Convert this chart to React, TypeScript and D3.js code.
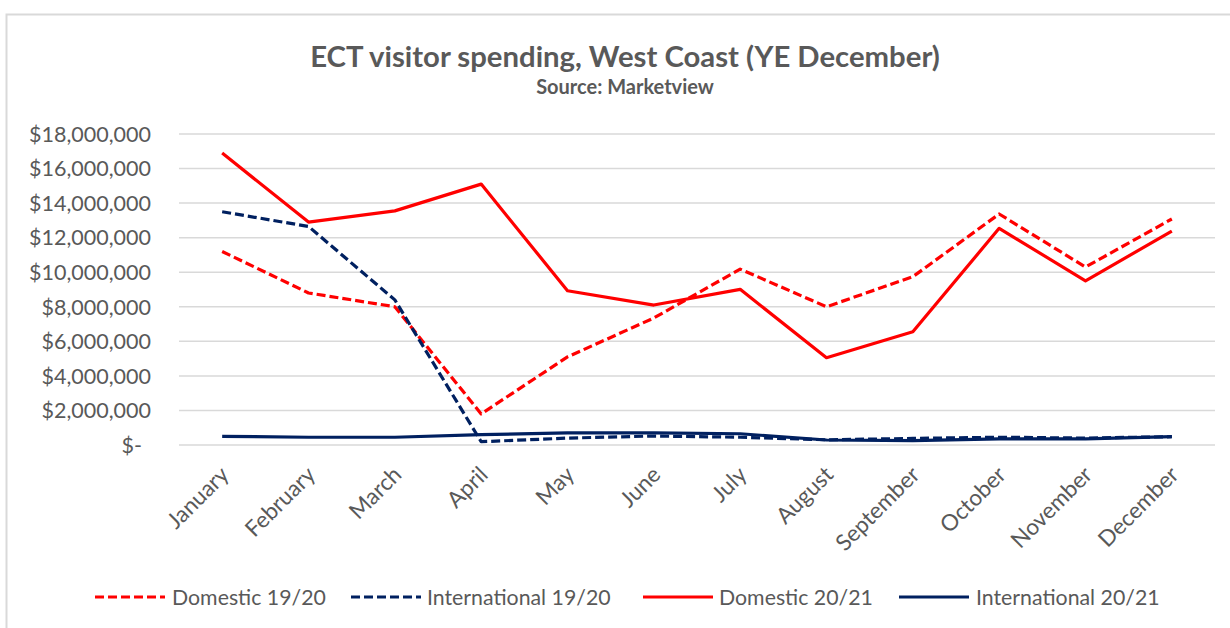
import React from "react";
import * as d3 from "d3";

const months = ["January","February","March","April","May","June","July","August","September","October","November","December"];
const domestic1920 = [11.2, 8.8, 8.0, 1.8, 5.1, 7.35, 10.18, 8.0, 9.74, 13.37, 10.3, 13.08];
const international1920 = [13.5, 12.65, 8.4, 0.19, 0.4, 0.52, 0.45, 0.3, 0.38, 0.45, 0.4, 0.48];
const domestic2021 = [16.9, 12.9, 13.55, 15.1, 8.93, 8.1, 9.01, 5.05, 6.55, 12.54, 9.5, 12.38];
const international2021 = [0.5, 0.45, 0.45, 0.6, 0.7, 0.7, 0.65, 0.29, 0.25, 0.35, 0.35, 0.48];
const yTicks = [0, 2, 4, 6, 8, 10, 12, 14, 16, 18];

const series = [
  { name: "Domestic 19/20", values: domestic1920, color: "#ff0000", dash: "9 4" },
  { name: "International 19/20", values: international1920, color: "#002060", dash: "9 4" },
  { name: "Domestic 20/21", values: domestic2021, color: "#ff0000", dash: null },
  { name: "International 20/21", values: international2021, color: "#002060", dash: null },
];

const legendPos = [
  { lx: 95, tx: 172 },
  { lx: 351, tx: 427 },
  { lx: 643, tx: 719 },
  { lx: 899, tx: 976 },
];

const FONT = "Lato, 'Open Sans', sans-serif";
const GREY = "#595959";

export default function App() {
  const W = 1230, H = 628;
  const x = d3.scalePoint<string>().domain(months).range([179, 1215]).padding(0.5);
  const y = d3.scaleLinear().domain([0, 18]).range([445, 134]);
  const line = d3.line<number>().x((_, i) => x(months[i])!).y((v) => y(v));
  const fmt = d3.format(",");

  return (
    <svg width={W} height={H} style={{ position: "absolute", left: 0, top: 0, background: "#fff" }}>
      <rect x={0} y={0} width={W} height={H} fill="#fff" />
      <rect x={6.5} y={14.5} width={W + 10} height={H + 10} fill="none" stroke="#d9d9d9" strokeWidth={2} />
      <text x={625} y={67} textAnchor="middle" fontFamily={FONT} fontWeight="bold" fontSize={29.3} fill={GREY}>
        ECT visitor spending, West Coast (YE December)
      </text>
      <text x={625} y={94} textAnchor="middle" fontFamily={FONT} fontWeight="bold" fontSize={20} fill={GREY}>
        Source: Marketview
      </text>
      {yTicks.map((t) => (
        <g key={t}>
          <line x1={179} x2={1215} y1={y(t)} y2={y(t)} stroke="#d9d9d9" strokeWidth={1.5} />
          <text x={t === 0 ? 142 : 151} y={y(t)} dy="0.36em" textAnchor="end" fontFamily={FONT} fontSize={21.5} fill={GREY}>
            {t === 0 ? "$-" : "$" + fmt(t * 1000000)}
          </text>
        </g>
      ))}
      {months.map((m) => (
        <text key={m} transform={`translate(${x(m)! - 3},${465}) rotate(-45)`} textAnchor="end" dy="0.7em" fontFamily={FONT} fontSize={22.5} fill={GREY}>
          {m}
        </text>
      ))}
      {series.map((s) => (
        <path key={s.name} d={line(s.values)!} fill="none" stroke={s.color} strokeWidth={3.2} strokeDasharray={s.dash ?? undefined} strokeLinejoin="round" />
      ))}
      {series.map((s, i) => (
        <g key={s.name}>
          <line x1={legendPos[i].lx} x2={legendPos[i].lx + 70} y1={597} y2={597} stroke={s.color} strokeWidth={3.2} strokeDasharray={s.dash ?? undefined} />
          <text x={legendPos[i].tx} y={597} dy="0.36em" fontFamily={FONT} fontSize={21.3} fill={GREY}>
            {s.name}
          </text>
        </g>
      ))}
    </svg>
  );
}
